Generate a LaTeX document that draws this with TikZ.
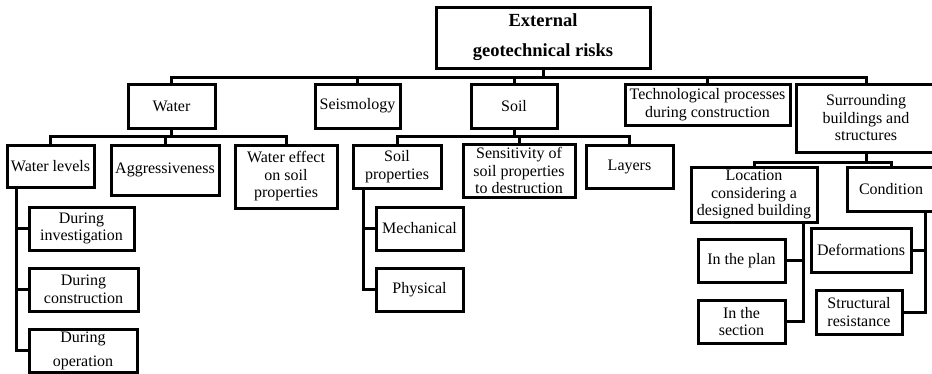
\documentclass[tikz,border=0pt]{standalone}
\usepackage{fontspec}
\setmainfont{Liberation Serif}
% rectangular box given by its corners (x1,y1) and (x2,y2)
\newcommand\boxat[7][]{%
  \node[box,minimum width={#5-#3},minimum height={#6-#4},#1] (#2)
    at ({(#3+#5)/2},{(#4+#6)/2}) {#7};}
\begin{document}
\begin{tikzpicture}[x=1pt,y=-1pt,
  box/.style={draw,rectangle,line width=3pt,inner sep=0pt,outer sep=0pt,
    align=center,font=\fontsize{16}{17.5}\selectfont},
  link/.style={draw,line width=3pt,line join=miter,line cap=rect}]
\useasboundingbox (0,0) rectangle (932,373);
\fill[white] (0,0) rectangle (932,373);
\clip (0,0) rectangle (932,373);

% top level
\boxat[font=\fontsize{18.5}{30}\selectfont\bfseries]{root}{436}{7}{650}{68}{External\\geotechnical risks}
\boxat{water}{128}{84}{215}{128}{Water}
\boxat{seis}{315}{84}{400}{128}{Seismology}
\boxat{soil}{471}{84}{557}{128}{Soil}
\boxat{tech}{625}{84}{790}{125}{Technological processes\\during construction}
\boxat{surr}{796}{84}{936}{152}{Surrounding\\buildings and\\structures}

% second level
\boxat{wl}{7}{145}{94}{187}{Water levels}
\boxat{aggr}{111}{145}{219}{195}{Aggressiveness}
\boxat{weff}{235}{145}{337}{208}{Water effect\\on soil\\properties}
\boxat{sprop}{353}{145}{441}{188}{Soil\\properties}
\boxat{sens}{463}{144}{575}{197}{Sensitivity of\\soil properties\\to destruction}
\boxat{layers}{586}{145}{673}{188}{Layers}
\boxat{loc}{691}{167}{817}{222}{Location\\considering a\\designed building}
\boxat{cond}{847}{167}{935}{211}{Condition}

% third level
\boxat{dinv}{29}{207}{134}{250}{During\\investigation}
\boxat{dcon}{29}{268}{138}{311}{During\\construction}
\boxat[font=\fontsize{16}{24}\selectfont]{dop}{29}{329}{137}{372}{During\\operation}
\boxat{mech}{376}{207}{463}{250}{Mechanical}
\boxat{phys}{376}{268}{463}{311}{Physical}
\boxat{plan}{698}{239}{785}{282}{In the plan}
\boxat{sect}{698}{300}{785}{343}{In the\\section}
\boxat{deform}{811}{228}{911}{272}{Deformations}
\boxat{struct}{816}{290}{902}{334}{Structural\\resistance}

% tree connectors
\foreach \c in {water,seis,soil,tech,surr}
  \draw[link] (root.south) -- ++(0,9) -| (\c.north);
\foreach \c in {wl,aggr,weff}
  \draw[link] (water.south) -- ++(0,8) -| (\c.north);
\foreach \c in {sprop,sens,layers}
  \draw[link] (soil.south) -- ++(0,8) -| (\c.north);
\foreach \c in {loc,cond}
  \draw[link] (surr.south) -- ++(0,10) -| (\c.north);

% side branches
\foreach \c in {dinv,dcon,dop}
  \draw[link] ([xshift=9]wl.south west) |- (\c.west);
\foreach \c in {mech,phys}
  \draw[link] ([xshift=10]sprop.south west) |- (\c.west);
\foreach \c in {plan,sect}
  \draw[link] ([xshift=-14]loc.south east) |- (\c.east);
\foreach \c in {deform,struct}
  \draw[link] ([xshift=34]cond.south) |- (\c.east);
\end{tikzpicture}
\end{document}
